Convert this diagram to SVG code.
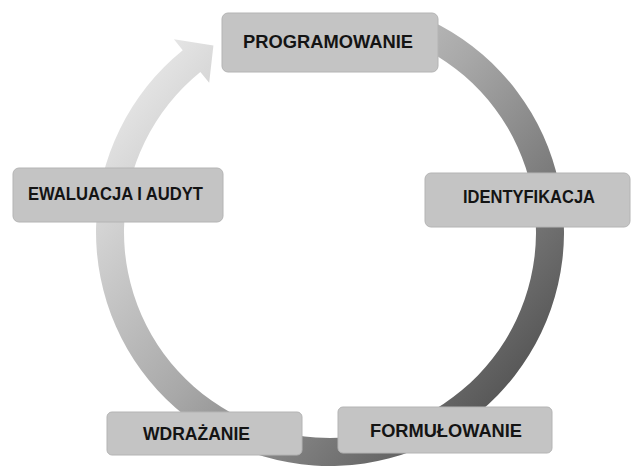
<svg xmlns="http://www.w3.org/2000/svg" width="633" height="467" viewBox="0 0 633 467">
  <style>
    .box { fill: #c4c4c4; stroke: #b4b4b4; stroke-width: 1; }
    .lbl { font-family: "Liberation Sans", Arial, sans-serif; font-weight: bold; font-size: 18px; fill: #141414; text-anchor: middle; }
  </style>
  <defs>
    <linearGradient id="ringGrad" gradientUnits="userSpaceOnUse" x1="100" y1="60" x2="520" y2="420">
      <stop offset="0" stop-color="#f0f0f0"/>
      <stop offset="0.5" stop-color="#a8a8a8"/>
      <stop offset="1" stop-color="#4e4e4e"/>
    </linearGradient>
  </defs>
  <rect width="633" height="467" fill="#ffffff"/>
  <g id="connectors">
    <path d="M 417.66 15.04 A 234 234 0 1 1 182.74 50.16 L 173.93 39.28 L 213.42 45.44 L 209.17 82.8 L 200.36 71.91 A 206 206 0 1 0 407.17 41.0 Z" fill="url(#ringGrad)"/>
  </g>
  <g id="node-programowanie">
    <rect class="box" x="222" y="13" width="216" height="59" rx="6"/>
    <text class="lbl" x="328" y="48" textLength="170" lengthAdjust="spacingAndGlyphs">PROGRAMOWANIE</text>
  </g>
  <g id="node-identyfikacja">
    <rect class="box" x="425" y="173" width="205" height="54" rx="6"/>
    <text class="lbl" x="529" y="203" textLength="132" lengthAdjust="spacingAndGlyphs">IDENTYFIKACJA</text>
  </g>
  <g id="node-ewaluacja">
    <rect class="box" x="13" y="168" width="210" height="54" rx="6"/>
    <text class="lbl" x="115.5" y="200" textLength="175" lengthAdjust="spacingAndGlyphs">EWALUACJA I AUDYT</text>
  </g>
  <g id="node-wdrazanie">
    <rect class="box" x="107" y="412" width="195" height="43" rx="5"/>
    <text class="lbl" x="196.5" y="440" textLength="107" lengthAdjust="spacingAndGlyphs">WDRAŻANIE</text>
  </g>
  <g id="node-formulowanie">
    <rect class="box" x="338" y="407" width="214" height="46" rx="5"/>
    <text class="lbl" x="446" y="437" textLength="152" lengthAdjust="spacingAndGlyphs">FORMUŁOWANIE</text>
  </g>
</svg>
